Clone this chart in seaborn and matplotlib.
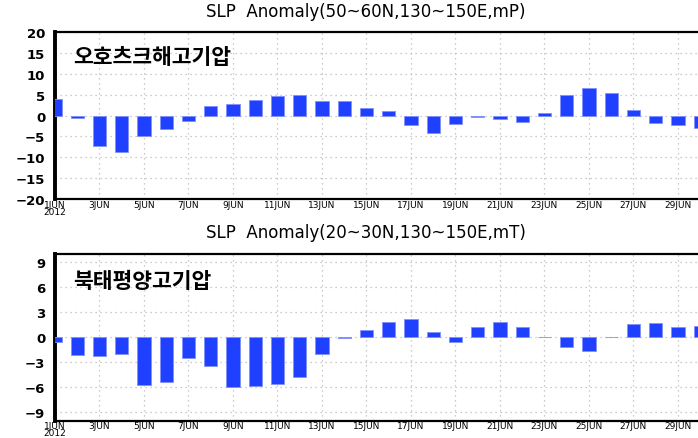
import matplotlib
matplotlib.use("Agg")
import matplotlib.pyplot as plt
import seaborn as sns
import numpy as np

days = list(range(1, 31))
okhotsk = [4.0, -0.6, -7.2, -8.8, -4.8, -3.2, -1.2, 2.2, 2.7, 3.8,
           4.6, 4.8, 3.5, 3.4, 1.9, 1.0, -2.3, -4.1, -2.0, -0.3,
           -0.8, -1.6, 0.7, 5.0, 6.6, 5.4, 1.4, -1.7, -2.2, -3.0]
npacific = [-0.5, -2.1, -2.2, -2.0, -5.7, -5.3, -2.5, -3.4, -5.9, -5.8,
            -5.6, -4.7, -2.0, -0.1, 0.9, 1.8, 2.2, 0.7, -0.5, 1.2,
            1.8, 1.2, 0.05, -1.1, -1.6, 0.05, 1.6, 1.7, 1.2, 1.4]
xtick_days = list(range(1, 30, 2))
xtick_labels = ["1JUN\n2012"] + [f"{d}JUN" for d in range(3, 30, 2)]
titles = ["SLP  Anomaly(50~60N,130~150E,mP)", "SLP  Anomaly(20~30N,130~150E,mT)"]
labels = ["오호츠크해고기압", "북태평양고기압"]
yticks_top = [-20, -15, -10, -5, 0, 5, 10, 15, 20]
yticks_bot = [-9, -6, -3, 0, 3, 6, 9]

sns.set_style("white")
plt.rcParams['font.family'] = ['DejaVu Sans', 'Noto Sans CJK KR']
plt.rcParams['text.color'] = 'black'
plt.rcParams['xtick.color'] = 'black'
plt.rcParams['ytick.color'] = 'black'
plt.rcParams['axes.labelcolor'] = 'black'

W, H = 698, 439
fig = plt.figure(figsize=(W / 100, H / 100), dpi=100)

def px_axes(left, top, right, bottom):
    return fig.add_axes([left / W, 1 - bottom / H, (right - left) / W, (bottom - top) / H])

ax1 = px_axes(55, 33, 698, 200)
ax2 = px_axes(55, 255, 698, 421.7)

bar_color = "#2040ff"
panels = [
    (ax1, okhotsk, (-20, 20), yticks_top, titles[0], labels[0], 12, 0.856),
    (ax2, npacific, (-10, 10), yticks_bot, titles[1], labels[1], 233, 0.844),
]
for ax, vals, ylim, yt, title, lab, ty, ly in panels:
    sns.barplot(x=days, y=vals, native_scale=True, width=0.6, color=bar_color,
                saturation=1, edgecolor="#8090ff", linewidth=0.6, ax=ax, zorder=3)
    ax.set_xlim(1, 29.9)
    ax.set_ylim(*ylim)
    ax.set_yticks(yt)
    ax.set_xticks(xtick_days)
    ax.set_xticklabels(xtick_labels, fontsize=6.5, linespacing=0.72)
    for t in ax.get_yticklabels():
        t.set_fontweight("bold")
        t.set_fontsize(9.5)
    ax.tick_params(axis="y", direction="out", length=5, width=1.5, pad=2, colors="black")
    ax.tick_params(axis="x", direction="in", length=3, width=1, pad=0.5, colors="black")
    ax.grid(True, axis="both", color="#bbbbbb", linestyle=(0, (1, 3)), linewidth=0.9, zorder=0)
    ax.set_axisbelow(True)
    ax.spines["right"].set_visible(False)
    ax.spines["left"].set_linewidth(2.8)
    ax.spines["top"].set_linewidth(1.6)
    ax.spines["bottom"].set_linewidth(1.6)
    for s in ax.spines.values():
        s.set_color("black")
    ax.set_xlabel("")
    ax.set_ylabel("")
    ax.text(0.028, ly, lab, transform=ax.transAxes, fontsize=15.5, color="black",
            family=['Noto Sans CJK KR', 'DejaVu Sans'], fontweight="bold",
            ha="left", va="center", zorder=5)
    fig.text(366 / W, 1 - ty / H, title, fontsize=12, color="black",
             ha="center", va="center")

fig.savefig("out.png", dpi=100)
